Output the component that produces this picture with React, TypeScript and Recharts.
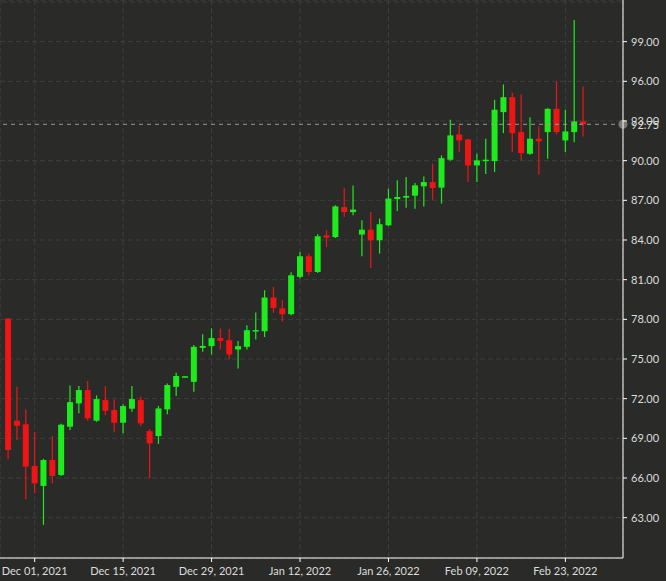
import { ComposedChart, Bar, XAxis, YAxis, CartesianGrid, ReferenceLine } from 'recharts';

const dates = [
  'Nov 26, 2021', 'Nov 29, 2021', 'Nov 30, 2021', 'Dec 01, 2021', 'Dec 02, 2021', 'Dec 03, 2021',
  'Dec 06, 2021', 'Dec 07, 2021', 'Dec 08, 2021', 'Dec 09, 2021', 'Dec 10, 2021',
  'Dec 13, 2021', 'Dec 14, 2021', 'Dec 15, 2021', 'Dec 16, 2021', 'Dec 17, 2021',
  'Dec 20, 2021', 'Dec 21, 2021', 'Dec 22, 2021', 'Dec 23, 2021', 'Dec 24, 2021',
  'Dec 27, 2021', 'Dec 28, 2021', 'Dec 29, 2021', 'Dec 30, 2021', 'Dec 31, 2021',
  'Jan 03, 2022', 'Jan 04, 2022', 'Jan 05, 2022', 'Jan 06, 2022', 'Jan 07, 2022',
  'Jan 10, 2022', 'Jan 11, 2022', 'Jan 12, 2022', 'Jan 13, 2022', 'Jan 14, 2022',
  'Jan 17, 2022', 'Jan 18, 2022', 'Jan 19, 2022', 'Jan 20, 2022', 'Jan 21, 2022',
  'Jan 24, 2022', 'Jan 25, 2022', 'Jan 26, 2022', 'Jan 27, 2022', 'Jan 28, 2022',
  'Jan 31, 2022', 'Feb 01, 2022', 'Feb 02, 2022', 'Feb 03, 2022', 'Feb 04, 2022',
  'Feb 07, 2022', 'Feb 08, 2022', 'Feb 09, 2022', 'Feb 10, 2022', 'Feb 11, 2022',
  'Feb 14, 2022', 'Feb 15, 2022', 'Feb 16, 2022', 'Feb 17, 2022', 'Feb 18, 2022',
  'Feb 21, 2022', 'Feb 22, 2022', 'Feb 23, 2022', 'Feb 24, 2022', 'Feb 25, 2022',
];

const opens = [
  78.06, 70.33, 70.06, 66.91, 65.40, 67.36, 66.23, 69.88, 71.64, 72.65, 70.33,
  71.89, 71.14, 70.18, 71.24, 71.89, 69.55, 69.17, 71.19, 72.90, 73.62,
  73.27, 75.84, 75.97, 76.58, 76.42, 75.72, 75.92, 77.08, 77.10, 79.65,
  78.82, 78.39, 81.21, 82.77, 81.58, 84.35, 84.22, 86.49, 86.11, 84.41,
  84.78, 83.98, 85.11, 87.10, 87.20, 87.35, 88.06, 88.38, 87.96, 90.07,
  91.98, 91.61, 89.64, 89.97, 89.97, 93.67, 94.80, 92.16, 90.52, 91.66,
  92.16, 93.92, 91.53, 92.16, 92.97,
];

const highs = [
  78.10, 72.90, 71.19, 69.48, 67.45, 69.17, 70.10, 73.00, 72.95, 73.33, 72.25,
  72.95, 71.94, 71.57, 72.95, 72.14, 69.70, 71.45, 73.15, 73.96, 73.68,
  76.05, 76.88, 77.31, 77.31, 77.26, 76.37, 77.56, 78.52, 80.20, 80.45,
  79.45, 81.56, 83.09, 82.97, 84.43, 84.73, 86.62, 87.96, 88.13, 85.49,
  86.11, 85.62, 87.88, 88.51, 88.76, 88.31, 88.81, 89.76, 90.40, 93.09,
  92.66, 91.66, 90.52, 91.66, 94.60, 95.76, 95.13, 95.00, 93.29, 92.59,
  93.97, 95.99, 93.85, 100.64, 95.61,
];

const lows = [
  67.41, 68.87, 64.39, 64.85, 62.45, 65.60, 66.15, 69.63, 70.89, 70.33, 70.25,
  70.76, 69.50, 69.38, 71.01, 69.93, 65.98, 68.57, 70.83, 72.20, 73.60,
  72.52, 75.54, 75.34, 75.72, 74.99, 74.29, 75.72, 76.48, 76.67, 78.49,
  77.81, 78.30, 81.08, 81.33, 81.50, 83.47, 84.15, 85.74, 85.87, 82.77,
  81.89, 82.97, 85.05, 86.19, 86.44, 86.37, 86.54, 87.05, 86.75, 90.00,
  90.65, 88.38, 88.38, 89.00, 89.14, 92.08, 90.65, 90.02, 90.45, 88.96,
  90.15, 91.98, 90.65, 91.40, 91.83,
];

const closes = [
  68.12, 69.95, 66.86, 65.60, 67.36, 66.15, 70.03, 71.74, 72.65, 70.51, 71.97,
  71.08, 70.18, 71.44, 71.97, 70.13, 68.62, 71.26, 73.03, 73.71, 73.66,
  75.92, 75.99, 76.58, 76.37, 75.34, 75.97, 77.18, 77.18, 79.65, 78.86,
  78.39, 81.33, 82.77, 81.58, 84.28, 84.18, 86.54, 86.11, 86.30, 84.78,
  83.98, 85.19, 87.13, 87.25, 87.33, 88.13, 88.38, 87.93, 90.19, 91.91,
  91.53, 89.64, 90.02, 90.06, 93.85, 94.80, 92.08, 90.57, 91.66, 91.46,
  93.92, 92.16, 92.21, 92.97, 92.75,
];

const dateTicks = ['Dec 01, 2021', 'Dec 15, 2021', 'Dec 29, 2021', 'Jan 12, 2022', 'Jan 26, 2022', 'Feb 09, 2022', 'Feb 23, 2022'];
const priceTicks = [63, 66, 69, 72, 75, 78, 81, 84, 87, 90, 93, 96, 99];
const lastPrice = 92.75;

const data = dates.map((date, i) => ({
  date,
  open: opens[i],
  high: highs[i],
  low: lows[i],
  close: closes[i],
  range: [lows[i], highs[i]],
}));

const BG = '#2a2b28';
const UP = '#1cec1c';
const DOWN = '#f01414';
const GRID = '#3e3f3c';
const TEXT = '#dcdcdc';
const FONT = 'Lato, sans-serif';

// candle drawn from the low-high range bar that recharts positions for us
const Candle = (props: any) => {
  const { x, y, width, height, payload } = props;
  if (!payload) return null;
  const { open, close, high, low } = payload;
  const top = Math.min(y, y + height);
  const h = Math.abs(height);
  const ppu = high > low ? h / (high - low) : 0;
  const cx = x + width / 2;
  const yo = top + (high - open) * ppu;
  const yc = top + (high - close) * ppu;
  const color = close >= open ? UP : DOWN;
  let bodyTop = Math.min(yo, yc);
  let bodyH = Math.abs(yo - yc);
  if (bodyH < 1.5) {
    bodyTop -= (1.5 - bodyH) / 2;
    bodyH = 1.5;
  }
  return (
    <g>
      <line x1={cx} x2={cx} y1={top} y2={top + h} stroke={color} strokeWidth={1.2} />
      <rect x={cx - 3} y={bodyTop} width={6} height={bodyH} fill={color} />
    </g>
  );
};

const LastPriceLabel = (props: any) => {
  const vb = props.viewBox || {};
  const ex = vb.x + vb.width;
  return (
    <g>
      <circle cx={ex} cy={vb.y} r={4.5} fill="#7a7b78" />
      <text x={ex + 8} y={vb.y + 2} dominantBaseline="middle" fill={TEXT} fontSize={11} fontFamily={FONT}>
        {lastPrice.toFixed(2)}
      </text>
    </g>
  );
};

export default function App() {
  return (
    <div style={{ position: 'absolute', left: 0, top: 0, width: 666, height: 581, background: BG }}>
      <ComposedChart width={666} height={581} data={data} margin={{ top: 0, right: 0, bottom: 0, left: 0 }}>
        <CartesianGrid stroke={GRID} strokeDasharray="5 3" />
        <XAxis
          dataKey="date"
          ticks={dateTicks}
          interval={0}
          height={23}
          padding={{ left: 3.7, right: 35.5 }}
          axisLine={{ stroke: '#ffffff' }}
          tickLine={{ stroke: '#ffffff' }}
          tickSize={4}
          tickMargin={5}
          tick={{ fill: TEXT, fontSize: 11, fontFamily: FONT }}
        />
        <YAxis
          orientation="right"
          type="number"
          domain={[59.95, 102.15]}
          allowDataOverflow
          ticks={priceTicks}
          width={43}
          axisLine={{ stroke: '#ffffff' }}
          tickLine={{ stroke: '#ffffff' }}
          tickSize={4}
          tickMargin={4}
          tickFormatter={(v: number) => v.toFixed(2)}
          tick={{ fill: TEXT, fontSize: 11, fontFamily: FONT, textAnchor: 'start' }}
        />
        <ReferenceLine y={102} stroke={GRID} strokeDasharray="5 3" />
        <ReferenceLine
          y={lastPrice}
          stroke="#9a9b98"
          strokeDasharray="4 4"
          label={(p: any) => <LastPriceLabel {...p} />}
        />
        <Bar dataKey="range" shape={<Candle />} isAnimationActive={false} />
      </ComposedChart>
    </div>
  );
}
